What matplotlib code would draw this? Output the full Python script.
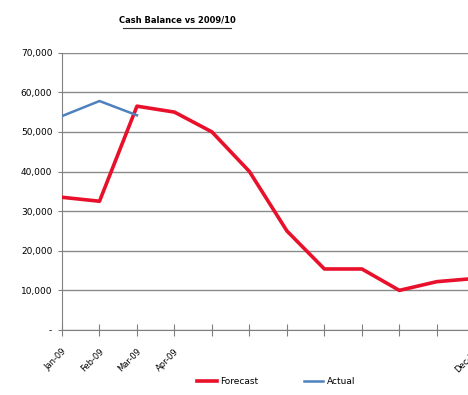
import numpy as np
import matplotlib.pyplot as plt
from matplotlib.ticker import FuncFormatter
from matplotlib.lines import Line2D

# month labels (only the first few and the last one are shown on the chart)
months = ['Jan-09', 'Feb-09', 'Mar-09', 'Apr-09', '', '', '', '', '', '', '', 'Dec-09']
forecast = [33500, 32500, 56500, 55000, 50000, 40000, 25000, 15400, 15400, 10000, 12200, 13000]
actual = [54000, 57800, 54200]
y_ticks = [0, 10000, 20000, 30000, 40000, 50000, 60000, 70000]


def money(v, pos):
    if v == 0:
        return '-'
    return f'{v:,.0f}'


fig = plt.figure(figsize=(4.68, 3.95), dpi=100)
ax = fig.add_axes([0.1325, 0.1646, 0.881, 0.702])

x = np.arange(len(months))
ax.plot(x, forecast, color='#e8102a', lw=2.6, label='Forecast', zorder=3)
ax.plot(x[:len(actual)], actual, color='#4f81bd', lw=1.8, label='Actual', zorder=3)

ax.set_xlim(0, len(months) - 1)
ax.set_ylim(0, 70000)
ax.set_yticks(y_ticks)
ax.yaxis.set_major_formatter(FuncFormatter(money))
ax.grid(axis='y', color='#8a8a8a', lw=1)
ax.set_axisbelow(True)

ax.set_xticks(x)
ax.set_xticklabels(months, rotation=45, ha='right', rotation_mode='anchor', fontsize=6)
ax.tick_params(axis='x', direction='inout', length=8, color='#808080', pad=8)
ax.tick_params(axis='y', direction='out', length=3, color='#808080', labelsize=6.5, pad=4)

for s in ['top', 'right']:
    ax.spines[s].set_visible(False)
ax.spines['left'].set_color('#808080')
ax.spines['bottom'].set_color('#808080')

# underlined title, like the excel chart
fig.text(0.378, 0.95, 'Cash Balance vs 2009/10', ha='center', va='center',
         fontsize=6, fontweight='bold')
fig.add_artist(Line2D([0.262, 0.494], [0.93, 0.93], transform=fig.transFigure,
                      color='#333333', lw=0.8))

fig.legend(loc='center', bbox_to_anchor=(0.59, 0.033), ncol=2, frameon=False,
           fontsize=6.5, handlelength=2.2, columnspacing=5, handletextpad=0.4)

fig.savefig('out.png', dpi=100)
